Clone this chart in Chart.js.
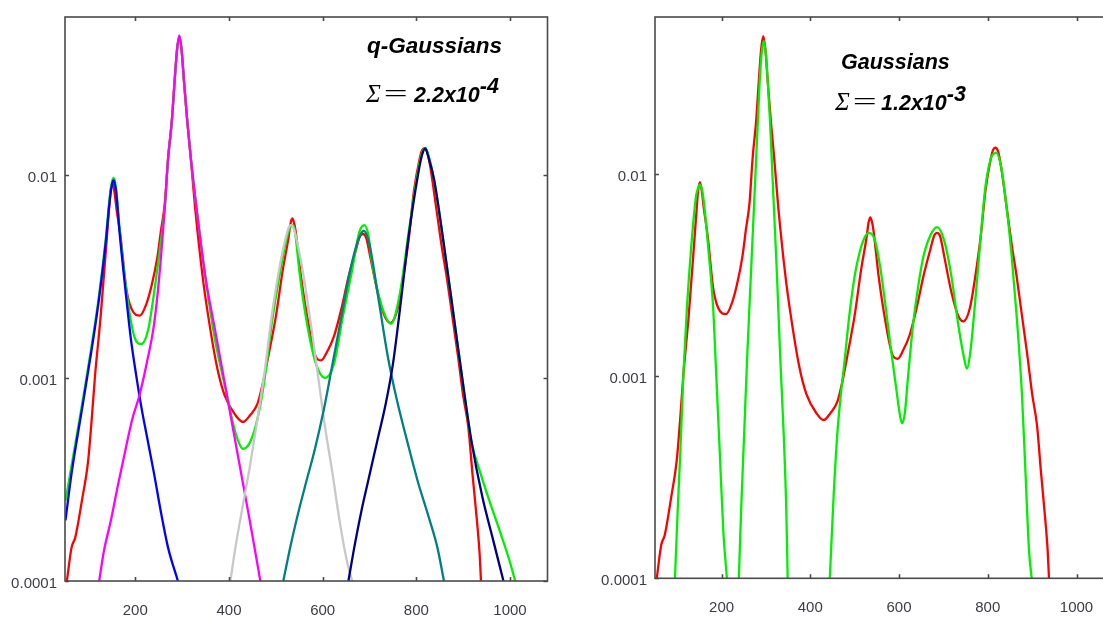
<!DOCTYPE html>
<html>
<head>
<meta charset="utf-8">
<script src="https://cdn.jsdelivr.net/npm/chart.js@4.4.1/dist/chart.umd.min.js"></script>
<style>
  html, body { margin: 0; padding: 0; background: #fff; overflow: hidden; }
  #page { position: relative; width: 1103px; height: 617px; overflow: hidden; background: #fff; }
  canvas { position: absolute; top: 0; }
  #leftChart { left: 0; }
  #rightChart { left: 560px; }
  .note { position: absolute; font-family: 'Liberation Sans', Arial, sans-serif; font-weight: bold; font-style: italic;
          font-size: 21.5px; line-height: 21px; color: #000; white-space: nowrap; }
  .sig { display: inline-block; font-family: 'Liberation Serif', 'DejaVu Serif', serif; font-weight: normal; font-size: 25px; }
  .eq { display: inline-block; transform: scaleX(1.7); transform-origin: left center; }
  .sup { position: relative; top: -9px; }
</style>
</head>
<body>
<div id="page">
  <canvas id="leftChart" width="560" height="617"></canvas>
  <canvas id="rightChart" width="570" height="617"></canvas>
  <div class="note" style="left:367px; top:35px; font-size:22.5px">q-Gaussians</div>
  <div class="note" style="left:366px; top:83px"><span class="sig" style="width:48px">Σ<span class="eq">=</span></span>2.2x10<span class="sup">-4</span></div>
  <div class="note" style="left:841px; top:52px">Gaussians</div>
  <div class="note" style="left:835px; top:91px"><span class="sig" style="width:46px">Σ<span class="eq">=</span></span>1.2x10<span class="sup">-3</span></div>
</div>
<script>
// axis ticks
const xTicks = [200, 400, 600, 800, 1000];
const yTicks = [0.0001, 0.001, 0.01];
const yTickLabels = ['0.0001', '0.001', '0.01'];

// measured data (red, same in both panels)
const dataX = [54, 64, 72, 87, 99, 107, 114, 126, 138, 144, 147, 151, 155, 160, 169, 181, 192, 210, 223, 235,
  247, 255, 263, 270, 278, 284, 289, 294, 299, 304, 311, 318, 328, 344, 356, 375, 391, 414, 430, 445,
  461, 472, 484, 500, 515, 527, 531, 535, 539, 542, 554, 570, 585, 597, 609, 624, 640, 655, 671, 679,
  686, 693, 702, 718, 733, 745, 760, 772, 784, 795, 807, 812, 817, 823, 830, 842, 854, 865, 877, 889,
  900, 911, 920, 928, 935, 938];
const dataY = [0.0001, 0.000146, 0.000164, 0.000256, 0.000383, 0.000625, 0.00102, 0.0020, 0.00447, 0.0068,
  0.0082, 0.00914, 0.0084, 0.0068, 0.00489, 0.00274, 0.00219, 0.00203, 0.00229, 0.00286,
  0.00391, 0.00535, 0.0072, 0.0120, 0.0184, 0.029, 0.041, 0.0482, 0.041, 0.029,
  0.0184, 0.0125, 0.0068, 0.00313, 0.0020, 0.00112, 0.000818, 0.000655, 0.000607, 0.000655,
  0.000748, 0.000935, 0.00128, 0.0020, 0.00342, 0.00489, 0.0057, 0.00611, 0.0058, 0.00535,
  0.00313, 0.00183, 0.00128, 0.00122, 0.00134, 0.00160, 0.00219, 0.00313, 0.00428, 0.00495,
  0.00512, 0.0049, 0.00391, 0.00261, 0.0020, 0.00187, 0.00219, 0.00313, 0.00489, 0.00836,
  0.0120, 0.0132, 0.01355, 0.0130, 0.0109, 0.0070, 0.00447, 0.00313, 0.0020, 0.00128,
  0.000818, 0.000571, 0.000334, 0.000214, 0.000137, 0.0001];

// q-Gaussian total fit (green, left)
const qFitX = [51, 64, 87, 106, 122, 137, 145, 150, 154, 159, 167, 183, 198, 213, 228, 240, 251, 263, 270, 278,
  284, 289, 294, 299, 304, 311, 318, 331, 350, 369, 392, 415, 430, 445, 461, 476, 491, 510, 525, 530,
  535, 540, 552, 567, 586, 605, 624, 643, 663, 678, 689, 698, 704, 723, 746, 765, 784, 803, 812, 819,
  826, 838, 857, 880, 903, 918, 937, 956, 979, 998, 1011];
const qFitY = [2.48e-4, 3.70e-4, 7.53e-4, 1.40e-3, 2.49e-3, 4.85e-3, 7.6e-3, 9.2e-3, 9.66e-3, 8.6e-3,
  5.30e-3, 2.49e-3, 1.60e-3, 1.47e-3, 1.75e-3, 2.61e-3, 4.06e-3, 6.92e-3, 0.012, 1.84e-2,
  0.029, 0.041, 0.0485, 0.041, 0.029, 0.0184, 0.0125, 6.8e-3, 3.11e-3, 1.60e-3,
  9.0e-4, 5.28e-4, 4.48e-4, 4.83e-4, 6.31e-4, 9.82e-4, 1.83e-3, 3.40e-3, 5.07e-3, 5.5e-3,
  5.66e-3, 5.4e-3, 3.11e-3, 1.83e-3, 1.17e-3, 1.0e-3, 1.17e-3, 2.0e-3, 3.40e-3, 5.2e-3,
  5.66e-3, 5.0e-3, 3.89e-3, 2.39e-3, 1.85e-3, 2.61e-3, 5.30e-3, 1.03e-2, 1.28e-2, 1.36e-2,
  1.25e-2, 9.44e-3, 4.85e-3, 2.0e-3, 8.22e-4, 4.83e-4, 3.39e-4, 2.48e-4, 1.74e-4, 1.28e-4,
  1e-4];

// single q-Gaussian components
const peak1X = [51, 64, 87, 106, 122, 137, 145, 150, 154, 159, 167, 179, 190, 202, 213, 224, 240, 255, 270, 291];
const peak1Y = [1.99e-4, 3.39e-4, 7.19e-4, 1.34e-3, 2.39e-3, 4.65e-3, 7.3e-3, 8.9e-3, 9.44e-3, 8.3e-3,
  5.07e-3, 2.72e-3, 1.60e-3, 1.03e-3, 7.19e-4, 5.28e-4, 3.39e-4, 2.17e-4, 1.46e-4, 1e-4];
const peak2X = [123, 133, 148, 163, 179, 194, 209, 224, 240, 251, 263, 270, 278, 284, 289, 294, 299, 304,
  311, 318, 331, 350, 369, 388, 407, 426, 445, 467];
const peak2Y = [1e-4, 1.40e-4, 1.99e-4, 2.96e-4, 4.42e-4, 6.31e-4, 8.22e-4, 1.17e-3, 1.83e-3, 3.11e-3,
  6.92e-3, 0.012, 1.84e-2, 0.029, 0.041, 0.0485, 0.041, 0.029, 0.0184, 0.0125,
  6.8e-3, 3.11e-3, 1.79e-3, 1.03e-3, 5.90e-4, 3.39e-4, 1.95e-4, 1e-4];
const peak3X = [403, 415, 430, 445, 461, 476, 491, 510, 525, 529, 533, 538, 544, 560, 575, 590, 605, 621, 636, 651, 663];
const peak3Y = [1e-4, 1.52e-4, 2.38e-4, 3.70e-4, 6.31e-4, 1.07e-3, 2.0e-3, 3.72e-3, 5.30e-3, 5.6e-3,
  5.66e-3, 5.45e-3, 4.85e-3, 3.11e-3, 1.83e-3, 1.03e-3, 5.77e-4, 3.39e-4, 1.99e-4, 1.28e-4, 1e-4];
const peak4X = [516, 529, 544, 563, 583, 602, 621, 640, 659, 674, 681, 688, 695, 701, 720, 739, 758, 781, 803, 826, 845, 859];
const peak4Y = [1e-4, 1.40e-4, 1.99e-4, 2.96e-4, 4.42e-4, 6.89e-4, 1.17e-3, 2.0e-3, 3.40e-3, 4.65e-3,
  5.1e-3, 5.30e-3, 5.0e-3, 4.44e-3, 2.39e-3, 1.28e-3, 7.87e-4, 4.83e-4, 3.10e-4, 2.08e-4, 1.46e-4, 1e-4];
const peak5X = [655, 666, 682, 697, 716, 735, 750, 765, 784, 803, 812, 819, 826, 838, 857, 880, 903, 918, 941, 964, 986];
const peak5Y = [1e-4, 1.40e-4, 2.17e-4, 3.10e-4, 4.83e-4, 7.53e-4, 1.17e-3, 2.18e-3, 5.07e-3, 9.86e-3,
  1.25e-2, 1.35e-2, 1.22e-2, 9.44e-3, 4.85e-3, 2.0e-3, 8.22e-4, 4.83e-4, 2.59e-4, 1.59e-4, 1e-4];

// Gaussian total fit (green, right); null = below the axis
const gFitX = [95, 101, 107, 114, 122, 132, 142, 146, 151, 156, 161, 171, 181, 188, 196, 204, 212,
  225,
  239, 244, 251, 258, 266, 274, 282, 286, 290, 295, 300, 304, 309, 317, 325, 332, 340, 346, 349,
  400,
  444, 453, 461, 469, 476, 488, 500, 511, 523, 533, 546, 558, 570, 581, 593, 603, 607, 613, 620, 632,
  644, 655, 671, 686, 702, 718, 733, 745, 753, 760, 772, 784, 795, 807, 813, 819, 830, 842, 854, 865,
  877, 885, 893, 899];
const gFitY = [1e-4, 2.14e-4, 4.18e-4, 1.02e-3, 2.19e-3, 4.47e-3, 7.64e-3, 8.4e-3, 8.87e-3, 8.4e-3,
  7.0e-3, 4.09e-3, 2.19e-3, 1.02e-3, 4.18e-4, 1.71e-4, 1e-4,
  null,
  1e-4, 2.14e-4, 5.22e-4, 1.28e-3, 3.13e-3, 7.64e-3, 1.87e-2, 2.9e-2, 3.9e-2, 4.57e-2,
  3.9e-2, 2.9e-2, 1.87e-2, 7.64e-3, 3.13e-3, 1.28e-3, 5.22e-4, 2.14e-4, 1e-4,
  null,
  1e-4, 2.67e-4, 5.22e-4, 8.18e-4, 1.12e-3, 2.0e-3, 3.13e-3, 4.09e-3, 4.89e-3, 5.12e-3,
  4.68e-3, 3.42e-3, 2.19e-3, 1.40e-3, 8.93e-4, 6.25e-4, 5.85e-4, 6.55e-4, 9.77e-4, 1.83e-3,
  2.86e-3, 3.91e-3, 5.0e-3, 5.47e-3, 4.68e-3, 3.13e-3, 1.83e-3, 1.28e-3, 1.09e-3, 1.28e-3,
  2.39e-3, 4.89e-3, 8.75e-3, 1.20e-2, 1.26e-2, 1.28e-2, 1.09e-2, 7.0e-3, 3.91e-3, 2.0e-3,
  8.18e-4, 3.34e-4, 1.37e-4, 1e-4];

const pts = (xs, ys) => xs.map((x, i) => ({ x: x, y: ys[i] }));

function line(data, color) {
  return {
    data: data,
    borderColor: color,
    borderWidth: 2.3,
    pointRadius: 0,
    fill: false,
    spanGaps: false,
    cubicInterpolationMode: 'monotone'
  };
}

// box frame with inward tick marks on all four sides
const framePlugin = {
  id: 'frame',
  afterDatasetsDraw(chart) {
    const { ctx, chartArea: a, scales } = chart;
    ctx.save();
    ctx.strokeStyle = '#4a4a4a';
    ctx.lineWidth = 1.6;
    ctx.strokeRect(a.left, a.top, a.right - a.left, a.bottom - a.top);
    ctx.beginPath();
    scales.x.ticks.forEach(t => {
      const px = Math.round(scales.x.getPixelForValue(t.value)) + 0.5;
      ctx.moveTo(px, a.bottom); ctx.lineTo(px, a.bottom - 4);
      ctx.moveTo(px, a.top); ctx.lineTo(px, a.top + 4);
    });
    scales.y.ticks.forEach(t => {
      const py = Math.round(scales.y.getPixelForValue(t.value)) + 0.5;
      ctx.moveTo(a.left, py); ctx.lineTo(a.left + 4, py);
      ctx.moveTo(a.right, py); ctx.lineTo(a.right - 4, py);
    });
    ctx.stroke();
    ctx.restore();
  }
};

function makeOptions(yWidth, xHeight, padding) {
  const tickFont = { family: "'Liberation Sans', Arial, sans-serif", size: 15 };
  return {
    responsive: false,
    animation: false,
    layout: { padding: padding },
    plugins: { legend: { display: false }, tooltip: { enabled: false } },
    scales: {
      x: {
        type: 'linear',
        min: 50,
        max: 1080,
        grid: { display: false, drawTicks: false },
        border: { display: false },
        afterBuildTicks: s => { s.ticks = xTicks.map(v => ({ value: v })); },
        afterFit: s => { s.height = xHeight; },
        ticks: { color: '#3c3c44', font: tickFont, padding: 21, maxRotation: 0, autoSkip: false,
          callback: v => String(v) }
      },
      y: {
        type: 'logarithmic',
        min: 0.0001,
        max: 0.06,
        grid: { display: false, drawTicks: false },
        border: { display: false },
        afterBuildTicks: s => { s.ticks = yTicks.map(v => ({ value: v })); },
        afterFit: s => { s.width = yWidth; },
        ticks: {
          color: '#3c3c44', font: tickFont, padding: 8, labelOffset: 3, autoSkip: false,
          callback: v => yTickLabels[yTicks.indexOf(v)]
        }
      }
    }
  };
}

new Chart(document.getElementById('leftChart'), {
  type: 'line',
  data: {
    datasets: [
      line(pts(peak5X, peak5Y), '#000080'),
      line(pts(peak4X, peak4Y), '#008080'),
      line(pts(peak3X, peak3Y), '#c8c8c8'),
      line(pts(peak2X, peak2Y), '#ff00ff'),
      line(pts(peak1X, peak1Y), '#0000ff'),
      line(pts(qFitX, qFitY), '#00f000'),
      line(pts(dataX, dataY), '#ff0000')
    ]
  },
  options: makeOptions(65, 36, { top: 12, right: 12.5, left: 0, bottom: 0 }),
  plugins: [framePlugin]
});

new Chart(document.getElementById('rightChart'), {
  type: 'line',
  data: {
    datasets: [
      line(pts(gFitX, gFitY), '#00f000'),
      line(pts(dataX, dataY), '#ff0000')
    ]
  },
  options: makeOptions(95, 38.7, { top: 14.7, right: 18, left: 0, bottom: 0 }),
  plugins: [framePlugin]
});
</script>
</body>
</html>
